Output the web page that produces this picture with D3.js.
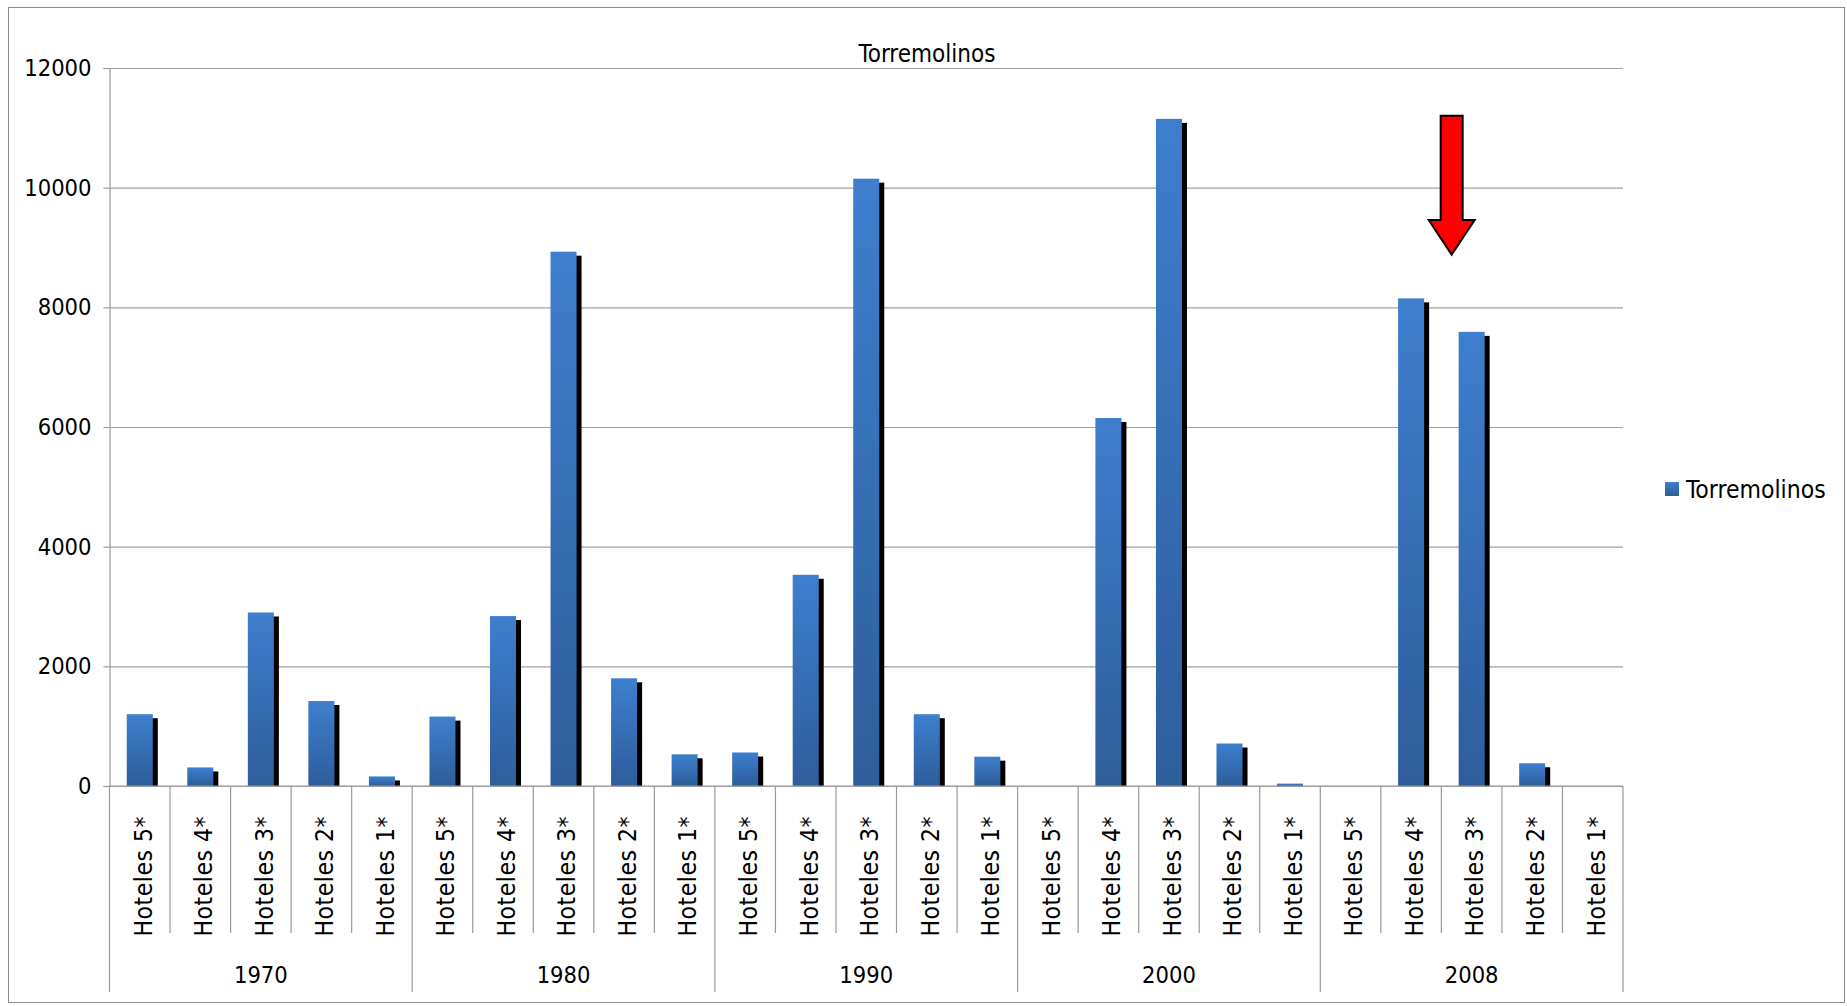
<!DOCTYPE html>
<html>
<head>
<meta charset="utf-8">
<script src="https://cdn.jsdelivr.net/npm/d3@7"></script>
<style>
  body { margin: 0; background: #fff; }
  text { font-family: "DejaVu Sans Condensed", "DejaVu Sans", sans-serif; fill: #000; }
</style>
</head>
<body>
<svg id="chart" width="1847" height="1006"></svg>
<script>
// data (plazas hoteleras, Torremolinos)
var years = ["1970", "1980", "1990", "2000", "2008"];
var hotelTypes = ["Hoteles 5*", "Hoteles 4*", "Hoteles 3*", "Hoteles 2*", "Hoteles 1*"];
var values1970 = [1200, 310, 2900, 1420, 160];
var values1980 = [1160, 2840, 8930, 1800, 530];
var values1990 = [560, 3530, 10150, 1200, 490];
var values2000 = [0, 6150, 11150, 710, 40];
var values2008 = [0, 8150, 7590, 380, 0];
var yTicks = [0, 2000, 4000, 6000, 8000, 10000, 12000];
var seriesName = "Torremolinos";

var valuesByYear = [values1970, values1980, values1990, values2000, values2008];

// flatten into one row per bar
var rows = [];
years.forEach(function (yr, i) {
  hotelTypes.forEach(function (t, j) {
    rows.push({ key: yr + "|" + t, year: yr, type: t, value: valuesByYear[i][j] });
  });
});

var svg = d3.select("#chart");
// plot area (note: "top" is a reserved window global, so use other names)
var plotLeft = 109.5, plotRight = 1623, plotTop = 68, plotBottom = 786;

var x = d3.scaleBand()
  .domain(rows.map(function (d) { return d.key; }))
  .range([plotLeft, plotRight])
  .paddingInner(0.57)
  .paddingOuter(0.285);

var y = d3.scaleLinear().domain([0, 12000]).range([plotBottom, plotTop]);

// outer frame
svg.append("rect")
  .attr("x", 8.5).attr("y", 7.5)
  .attr("width", 1836).attr("height", 995)
  .attr("fill", "none").attr("stroke", "#8a8a8a").attr("stroke-width", 1);

// gradient for the bars
var defs = svg.append("defs");
var grad = defs.append("linearGradient")
  .attr("id", "barGrad").attr("x1", 0).attr("y1", 0).attr("x2", 0).attr("y2", 1);
grad.append("stop").attr("offset", "0%").attr("stop-color", "#3d7fce");
grad.append("stop").attr("offset", "100%").attr("stop-color", "#2e5d9b");

// gridlines
svg.append("g")
  .attr("transform", "translate(" + plotLeft + ",0)")
  .call(d3.axisLeft(y).tickValues(yTicks).tickSize(-(plotRight - plotLeft)).tickFormat(""))
  .call(function (g) {
    g.select(".domain").remove();
    g.selectAll("line").attr("stroke", "#a0a0a0").attr("stroke-width", 1.2);
  });

// y axis
svg.append("g")
  .attr("transform", "translate(" + plotLeft + ",0)")
  .call(d3.axisLeft(y).tickValues(yTicks).tickSize(6).tickPadding(12).tickFormat(d3.format("d")))
  .call(function (g) {
    g.attr("font-family", null).attr("font-size", null);
    g.select(".domain").attr("stroke", "#9a9a9a").attr("stroke-width", 1.2);
    g.selectAll("line").attr("stroke", "#9a9a9a").attr("stroke-width", 1.2);
    g.selectAll("text").attr("font-size", 23.5).attr("fill", "#000");
  });

// bars: black drop shadow first, then the blue bar
var bw = x.bandwidth();
var bars = svg.append("g").selectAll("g").data(rows.filter(function (d) { return d.value > 0; }))
  .enter().append("g");

bars.append("rect")
  .attr("x", function (d) { return x(d.key) + 5; })
  .attr("y", function (d) { return Math.min(y(d.value) + 4, plotBottom); })
  .attr("width", bw)
  .attr("height", function (d) { return Math.max(plotBottom - y(d.value) - 4, 0); })
  .attr("fill", "#000");

bars.append("rect")
  .attr("x", function (d) { return x(d.key); })
  .attr("y", function (d) { return y(d.value); })
  .attr("width", bw)
  .attr("height", function (d) { return plotBottom - y(d.value); })
  .attr("fill", "url(#barGrad)");

// baseline
svg.append("line")
  .attr("x1", plotLeft).attr("x2", plotRight).attr("y1", plotBottom).attr("y2", plotBottom)
  .attr("stroke", "#9a9a9a").attr("stroke-width", 1.2);

// category axis: separators between bars and between years
var step = x.step();
var x0 = plotLeft;
rows.forEach(function (d, i) {
  var xs = x0 + i * step;
  svg.append("line")
    .attr("x1", xs).attr("x2", xs)
    .attr("y1", plotBottom).attr("y2", i % hotelTypes.length === 0 ? 992 : 933)
    .attr("stroke", "#9a9a9a").attr("stroke-width", 1.2);
});
svg.append("line")
  .attr("x1", plotRight).attr("x2", plotRight).attr("y1", plotBottom).attr("y2", 992)
  .attr("stroke", "#9a9a9a").attr("stroke-width", 1.2);

svg.append("g").selectAll("text").data(rows).enter().append("text")
  .attr("transform", function (d) {
    return "translate(" + (x(d.key) + bw / 2 + 3) + ",816) rotate(-90)";
  })
  .attr("text-anchor", "end")
  .attr("dy", "0.36em")
  .attr("font-size", 24.5)
  .attr("letter-spacing", 0.5)
  .text(function (d) { return d.type; });

svg.append("g").selectAll("text").data(years).enter().append("text")
  .attr("x", function (d, i) { return x0 + (i + 0.5) * hotelTypes.length * step; })
  .attr("y", 983)
  .attr("text-anchor", "middle")
  .attr("font-size", 23.5)
  .text(function (d) { return d; });

// title
svg.append("text")
  .attr("x", 927).attr("y", 62)
  .attr("text-anchor", "middle")
  .attr("font-size", 24)
  .text(seriesName);

// legend
svg.append("rect")
  .attr("x", 1665).attr("y", 482).attr("width", 14).attr("height", 14)
  .attr("fill", "url(#barGrad)");
svg.append("text")
  .attr("x", 1686).attr("y", 498)
  .attr("font-size", 24.5)
  .text(seriesName);

// red arrow pointing at the 2008 bars
var ax = x0 + 22.17 * step;
var arrow = [
  [ax - 11, y(11200)], [ax + 11, y(11200)], [ax + 11, y(9460)], [ax + 23, y(9460)],
  [ax, y(8880)], [ax - 23, y(9460)], [ax - 11, y(9460)]
];
svg.append("path")
  .attr("d", d3.line()(arrow) + "Z")
  .attr("fill", "#ff0000")
  .attr("stroke", "#000")
  .attr("stroke-width", 2)
  .attr("stroke-linejoin", "miter");
</script>
</body>
</html>
